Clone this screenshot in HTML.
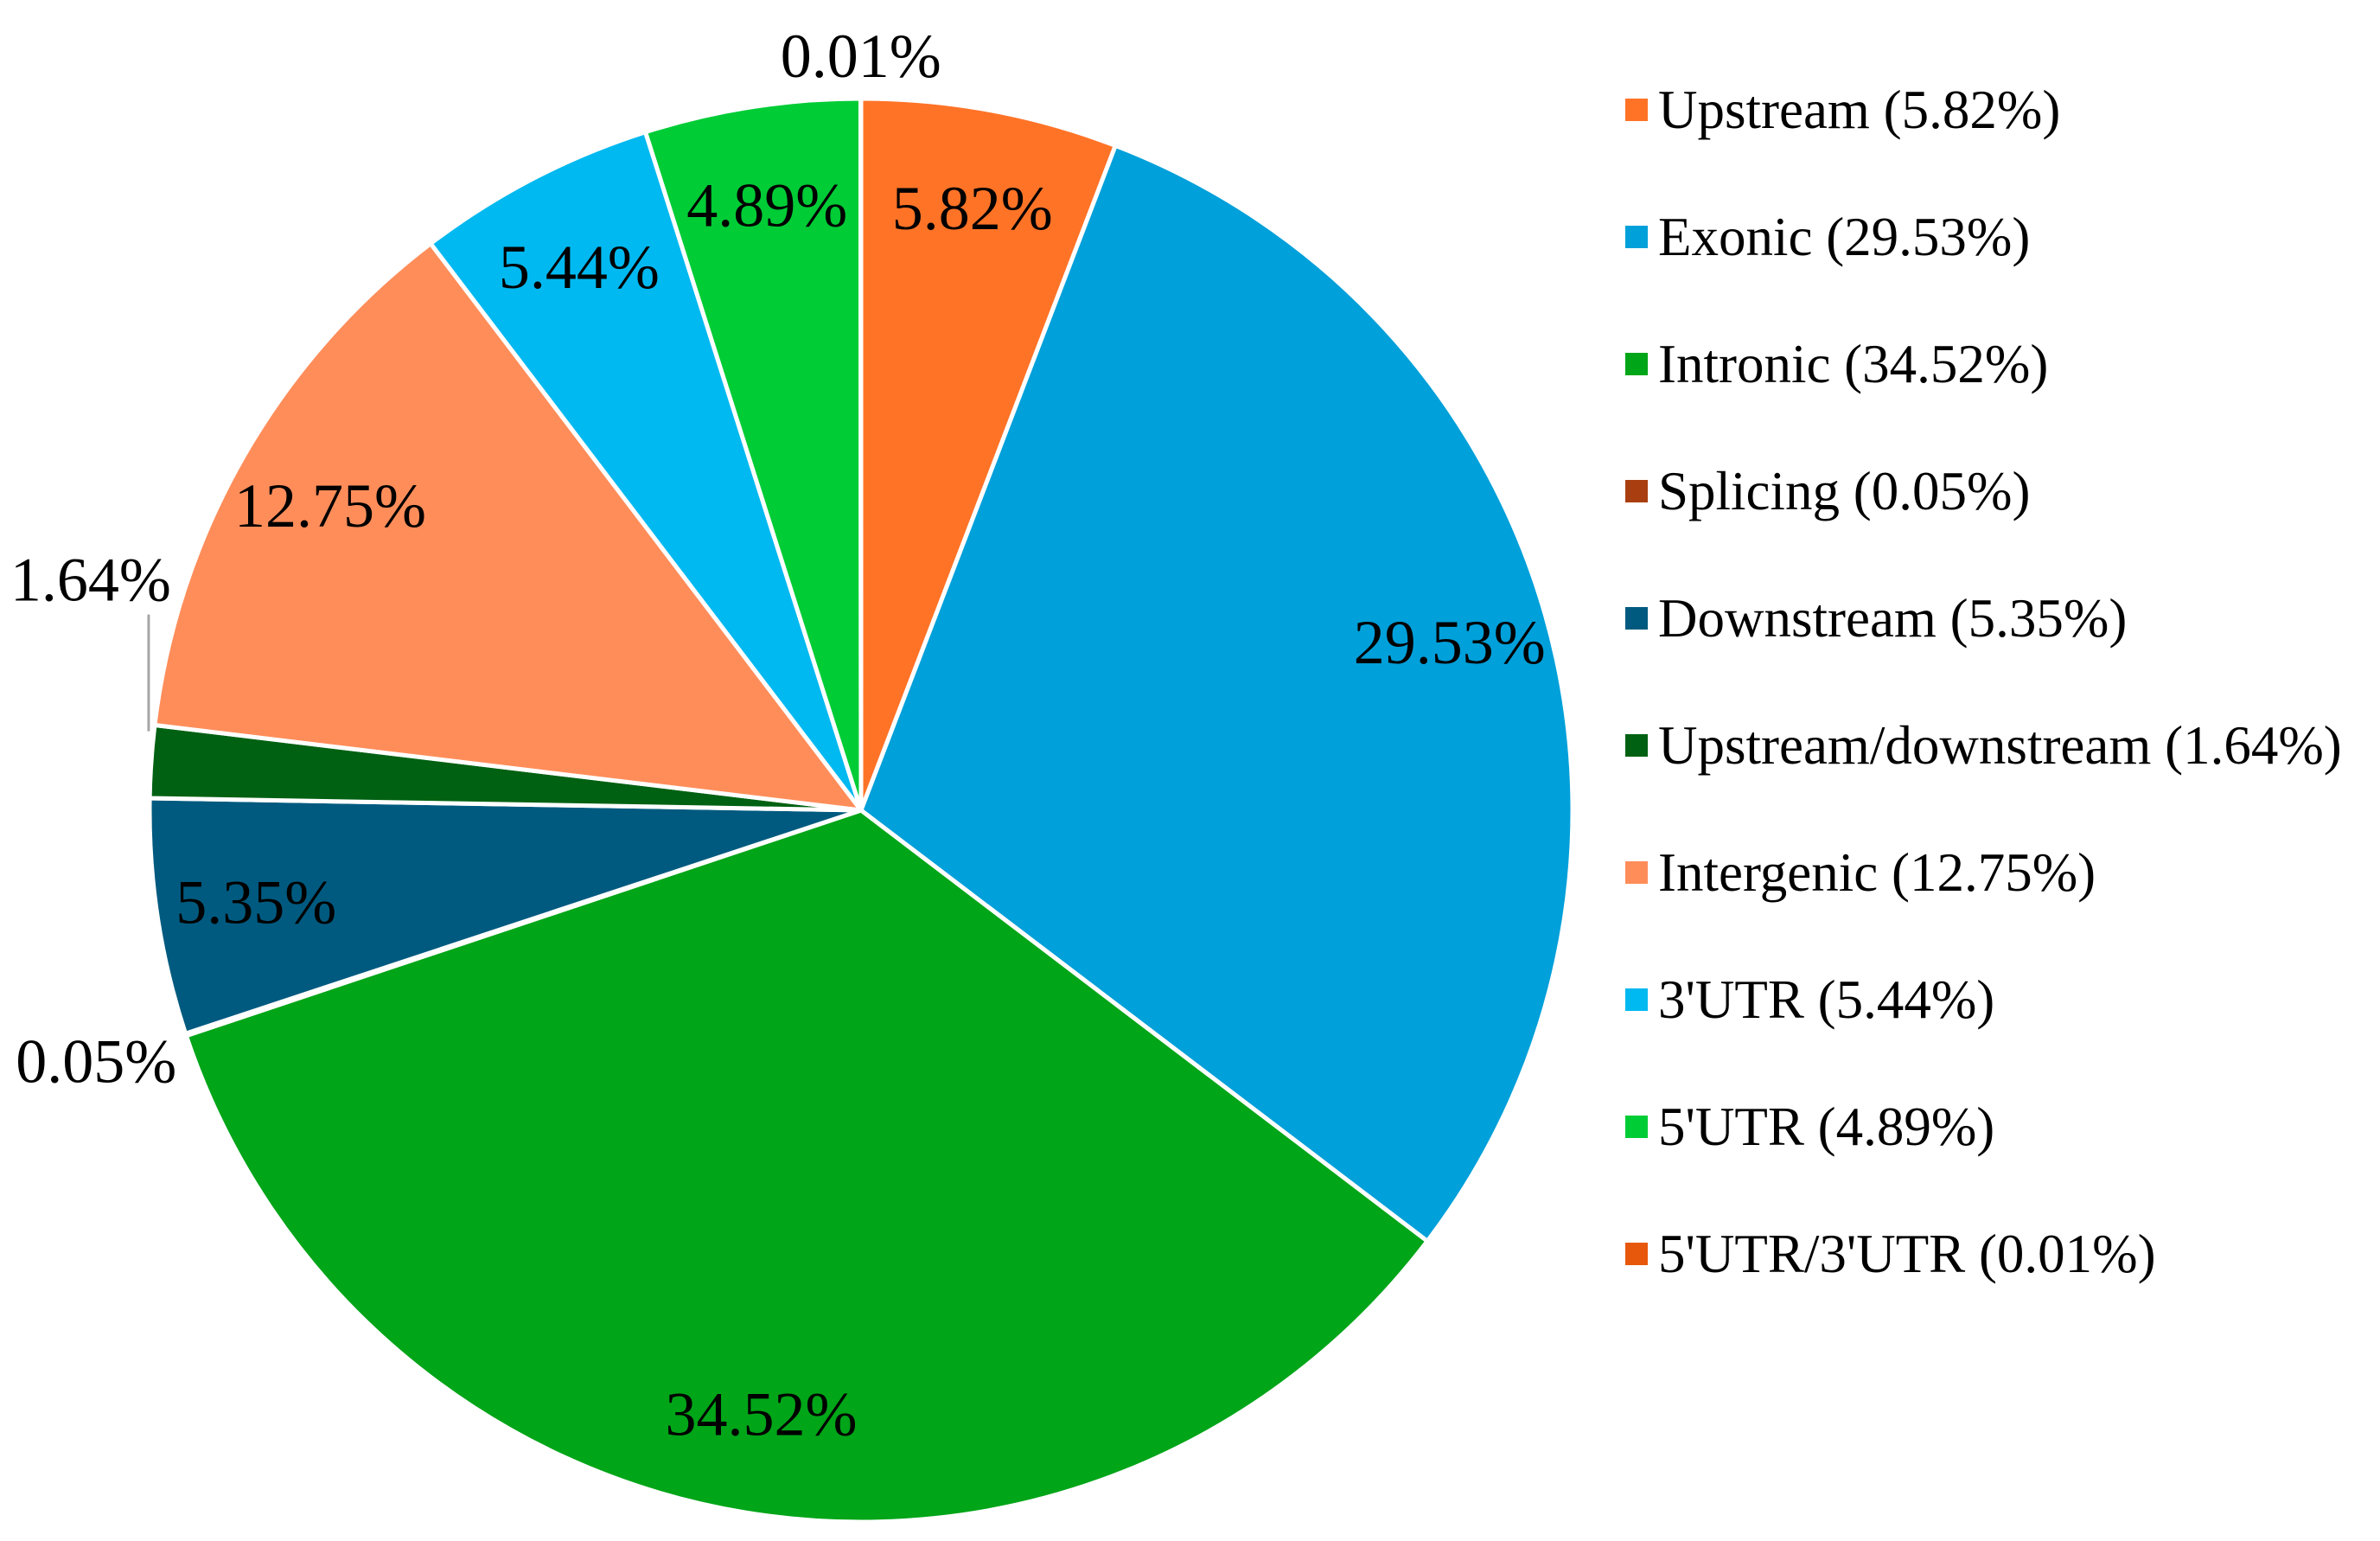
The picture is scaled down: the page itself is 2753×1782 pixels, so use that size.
<!DOCTYPE html>
<html><head><meta charset="utf-8"><style>
html,body{margin:0;padding:0;background:#fff;}
svg{display:block;font-family:"Liberation Serif",serif;}
</style></head><body>
<svg id="chart" width="2753" height="1782" viewBox="0 0 2753 1782" xmlns="http://www.w3.org/2000/svg">
<g id="slices"></g>
<g id="labels"></g>
<g id="legend"></g>
</svg>
<script>
const categories = ["Upstream","Exonic","Intronic","Splicing","Downstream","Upstream/downstream","Intergenic","3'UTR","5'UTR","5'UTR/3'UTR"];
const values = [5.82,29.53,34.52,0.05,5.35,1.64,12.75,5.44,4.89,0.01];
const valueLabels = ["5.82%","29.53%","34.52%","0.05%","5.35%","1.64%","12.75%","5.44%","4.89%","0.01%"];
const colors = ["#FF7327","#00A0DA","#00A518","#A93F10","#005A7F","#006112","#FF8D5A","#00B9F0","#00CC36","#E8580C"];

const NS="http://www.w3.org/2000/svg";
const cx=996, cy=937, R=823;
const total=values.reduce((a,b)=>a+b,0);
function pt(frac,r){const a=frac*2*Math.PI;return [cx+r*Math.sin(a), cy-r*Math.cos(a)];}
const gS=document.getElementById('slices'), gL=document.getElementById('labels'), gLeg=document.getElementById('legend');
let cum=0;
values.forEach((v,i)=>{
  const f0=cum/total, f1=(cum+v)/total; cum+=v;
  const [x0,y0]=pt(f0,R),[x1,y1]=pt(f1,R);
  const large=(f1-f0)>0.5?1:0;
  const p=document.createElementNS(NS,'path');
  p.setAttribute('d',`M${cx},${cy} L${x0},${y0} A${R},${R} 0 ${large} 1 ${x1},${y1} Z`);
  p.setAttribute('fill',colors[i]);p.setAttribute('stroke','#fff');p.setAttribute('stroke-width','5');
  
  
  gS.appendChild(p);
  const mid=(f0+f1)/2;
  let lx,ly;
  if(v<0.5){[lx,ly]=pt(mid,R*1.12); if(mid>0.95||mid<0.05){ly+=50;} else {lx-=10;} }
  else if(v<2){const e=pt(mid,R); lx=e[0]-70; ly=e[1]-210;
    const ln=document.createElementNS(NS,'line');
    ln.setAttribute('x1',e[0]-3);ln.setAttribute('y1',e[1]-35);ln.setAttribute('x2',e[0]-3);ln.setAttribute('y2',e[1]-170);
    ln.setAttribute('stroke','#a6a6a6');ln.setAttribute('stroke-width','3');
    
    
    gL.appendChild(ln);}
  else {[lx,ly]=pt(mid,R*0.86);}
  const t=document.createElementNS(NS,'text');
  t.setAttribute('x',lx);t.setAttribute('y',ly);t.setAttribute('text-anchor','middle');t.setAttribute('dominant-baseline','central');
  t.setAttribute('font-size','72');t.setAttribute('fill','#000');t.textContent=valueLabels[i];
  
  
  gL.appendChild(t);
  const y=127+i*147;
  const sq=document.createElementNS(NS,'rect');
  sq.setAttribute('x',1880);sq.setAttribute('y',y-13);sq.setAttribute('width',26);sq.setAttribute('height',26);sq.setAttribute('fill',colors[i]);
  
  
  gLeg.appendChild(sq);
  const lt=document.createElementNS(NS,'text');
  lt.setAttribute('x',1918);lt.setAttribute('y',y);lt.setAttribute('dominant-baseline','central');lt.setAttribute('font-size','63');
  lt.textContent=categories[i]+' ('+valueLabels[i]+')';
  
  
  gLeg.appendChild(lt);
});
</script>
</body></html>
